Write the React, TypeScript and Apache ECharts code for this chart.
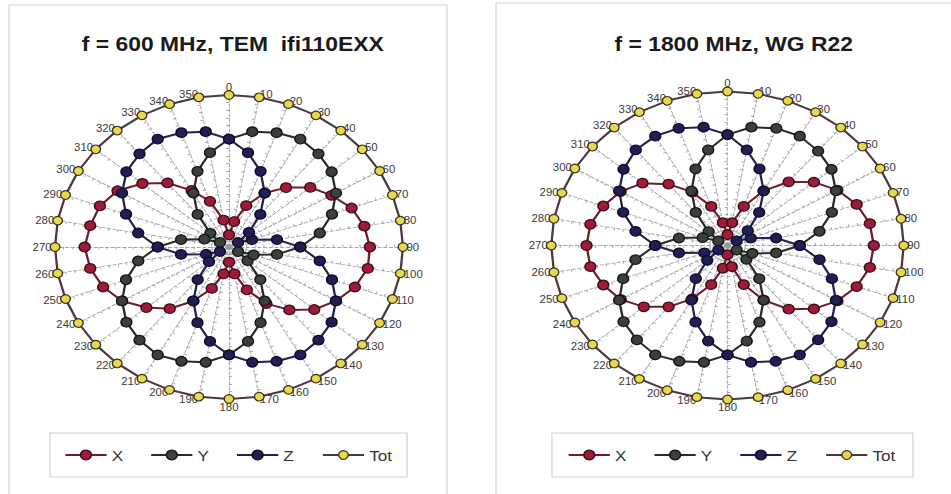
import React, { useEffect, useRef } from "react";
import * as echarts from "echarts";

// ---------- data ----------
const ANGLES = [0, 10, 20, 30, 40, 50, 60, 70, 80, 90, 100, 110, 120, 130, 140, 150, 160, 170,
  180, 190, 200, 210, 220, 230, 240, 250, 260, 270, 280, 290, 300, 310, 320, 330, 340, 350];

const SERIES_NAMES = ["X", "Y", "Z", "Tot"];
const TITLES = ["f = 600 MHz, TEM  ifi110EXX", "f = 1800 MHz, WG R22"];

// 600 MHz, TEM
const X_600 = [0.08, 0.17, 0.29, 0.41, 0.51, 0.61, 0.68, 0.75, 0.79, 0.81, 0.81, 0.77, 0.71, 0.64, 0.54, 0.43, 0.30, 0.18,
  0.10, 0.18, 0.29, 0.41, 0.53, 0.62, 0.71, 0.77, 0.81, 0.83, 0.81, 0.79, 0.74, 0.65, 0.55, 0.43, 0.32, 0.18];
const Y_600 = [0.71, 0.77, 0.80, 0.82, 0.80, 0.77, 0.71, 0.63, 0.53, 0.41, 0.28, 0.15, 0.06, 0.14, 0.28, 0.41, 0.53, 0.63,
  0.71, 0.77, 0.80, 0.82, 0.80, 0.77, 0.71, 0.63, 0.53, 0.41, 0.28, 0.15, 0.06, 0.14, 0.28, 0.41, 0.53, 0.63];
const Z_600 = [0.71, 0.63, 0.53, 0.41, 0.28, 0.15, 0.06, 0.14, 0.28, 0.41, 0.53, 0.63, 0.71, 0.77, 0.80, 0.82, 0.80, 0.77,
  0.71, 0.63, 0.53, 0.41, 0.28, 0.15, 0.06, 0.14, 0.28, 0.41, 0.53, 0.63, 0.71, 0.77, 0.80, 0.82, 0.80, 0.77];
const TOT_600 = [1, 1, 1, 1, 1, 1, 1, 1, 1, 1, 1, 1, 1, 1, 1, 1, 1, 1,
  1, 1, 1, 1, 1, 1, 1, 1, 1, 1, 1, 1, 1, 1, 1, 1, 1, 1];

// 1800 MHz, WG R22
const X_1800 = [0.07, 0.15, 0.27, 0.41, 0.54, 0.64, 0.72, 0.78, 0.82, 0.83, 0.82, 0.78, 0.72, 0.64, 0.54, 0.41, 0.27, 0.14,
  0.06, 0.15, 0.27, 0.40, 0.52, 0.62, 0.70, 0.75, 0.79, 0.80, 0.79, 0.75, 0.70, 0.63, 0.52, 0.40, 0.27, 0.15];
const Y_1800 = [0.72, 0.78, 0.81, 0.82, 0.80, 0.77, 0.71, 0.63, 0.53, 0.41, 0.28, 0.15, 0.06, 0.14, 0.28, 0.41, 0.53, 0.63,
  0.71, 0.77, 0.80, 0.82, 0.80, 0.77, 0.71, 0.63, 0.53, 0.41, 0.28, 0.15, 0.06, 0.14, 0.28, 0.41, 0.53, 0.63];
const Z_1800 = [0.72, 0.63, 0.53, 0.41, 0.28, 0.15, 0.06, 0.14, 0.28, 0.41, 0.53, 0.63, 0.71, 0.77, 0.80, 0.82, 0.80, 0.77,
  0.71, 0.63, 0.53, 0.41, 0.28, 0.15, 0.06, 0.14, 0.28, 0.41, 0.53, 0.63, 0.71, 0.77, 0.81, 0.82, 0.81, 0.78];
const TOT_1800 = [1, 1, 1, 1, 1, 1, 1, 1, 1, 1, 1, 1, 1, 1, 1, 1, 1, 1,
  1, 1, 1, 1, 1, 1, 1, 1, 1, 1, 1, 1, 1, 1, 1, 1, 1, 1];

const PANELS = [
  [X_600, Y_600, Z_600, TOT_600],
  [X_1800, Y_1800, Z_1800, TOT_1800],
];

// ---------- styles ----------
const FONT = "'Liberation Sans', Arial, sans-serif";
const LINE_COLORS = ["#6e1c30", "#2a2a2a", "#22224a", "#4a3a40"];
const FILL_COLORS = ["#9e1b3a", "#3b403c", "#1f1f55", "#e9d74c"];
const BORDER_COLORS = ["#3e0a16", "#151515", "#0c0c26", "#3a3020"];
const SYMBOL_SIZES = [9.5, 9.5, 9.5, 8.5];

const W = 831; // unstretched width; the picture is stretched horizontally
const H = 494;
const SX = 951 / W;

const LAYOUT = [
  { cx: 200.1, cy: 247, r: 152, titleX: 198.4, box: [7.9, 5, 382.7, 500], legendBox: [43.7, 433, 312, 44], legendX0: 75.1 },
  { cx: 635.7, cy: 245.5, r: 154, titleX: 636.1, box: [433.4, 3, 420, 500], legendBox: [482.3, 433, 315.5, 44], legendX0: 514.9 },
];

// clockwise order starting at the top (ECharts radar lays indicators counter-clockwise)
const ORDER_IDX = [0, ...ANGLES.map((_, i) => i).slice(1).reverse()];
const reorder = (arr: number[]) => ORDER_IDX.map((i) => arr[i]);

export default function App() {
  const ref = useRef<HTMLDivElement>(null);

  useEffect(() => {
    if (!ref.current) return;
    const chart = echarts.init(ref.current, null, { renderer: "svg" });

    const radar = LAYOUT.map((L) => ({
      center: [L.cx, L.cy],
      radius: L.r,
      startAngle: 90,
      shape: "circle",
      splitNumber: 20,
      indicator: ORDER_IDX.map((i) => ({ name: String(ANGLES[i]), min: 0, max: 1 })),
      nameGap: 3,
      axisName: { color: "#3a3a3a", fontSize: 10, fontFamily: FONT },
      axisLine: { show: true, lineStyle: { color: "#a4a4ac", width: 0.9, type: [3, 2] } },
      axisTick: { show: true, length: 2.5, lineStyle: { color: "#9a9aa2", width: 0.8 } },
      axisLabel: { show: false },
      splitLine: { show: false },
      splitArea: { show: false },
    }));

    const series = PANELS.map((panel, p) => ({
      type: "radar",
      radarIndex: p,
      symbol: "circle",
      data: panel.map((vals, k) => ({
        name: SERIES_NAMES[k],
        value: reorder(vals),
        symbolSize: SYMBOL_SIZES[k],
        lineStyle: { color: LINE_COLORS[k], width: 2 },
        itemStyle: { color: FILL_COLORS[k], borderColor: BORDER_COLORS[k], borderWidth: 1.2 },
      })),
    }));

    const graphic: any[] = [];
    LAYOUT.forEach((L) => {
      graphic.push({
        type: "rect",
        silent: true,
        z: -10,
        shape: { x: L.box[0], y: L.box[1], width: L.box[2], height: L.box[3] },
        style: { fill: "#ffffff", stroke: "#d2d2d2", lineWidth: 1 },
      });
      graphic.push({
        type: "rect",
        silent: true,
        shape: { x: L.legendBox[0], y: L.legendBox[1], width: L.legendBox[2], height: L.legendBox[3] },
        style: { fill: "none", stroke: "#cfcfcf", lineWidth: 1 },
      });
      SERIES_NAMES.forEach((name, k) => {
        const cx = L.legendX0 + k * 75;
        const cy = 455;
        graphic.push({
          type: "line",
          silent: true,
          shape: { x1: cx - 18, y1: cy, x2: cx + 18, y2: cy },
          style: { stroke: LINE_COLORS[k], lineWidth: 1.8 },
        });
        graphic.push({
          type: "circle",
          silent: true,
          shape: { cx, cy, r: SYMBOL_SIZES[k] / 2 },
          style: { fill: FILL_COLORS[k], stroke: BORDER_COLORS[k], lineWidth: 1.2 },
        });
        graphic.push({
          type: "text",
          silent: true,
          x: cx + 22.5,
          y: cy,
          style: { text: name, fontSize: 15, fontFamily: FONT, fill: "#333333", verticalAlign: "middle", align: "left" },
        });
      });
    });

    chart.setOption({
      animation: false,
      backgroundColor: "#ffffff",
      title: LAYOUT.map((L, p) => ({
        text: TITLES[p],
        left: L.titleX,
        top: 29,
        textAlign: "center",
        textStyle: { fontSize: 20, fontWeight: "bold", color: "#1a1a1a", fontFamily: FONT },
      })),
      radar,
      series,
      graphic,
    });

    return () => chart.dispose();
  }, []);

  return (
    <div style={{ position: "fixed", left: 0, top: 0, width: 951, height: H, overflow: "hidden", background: "#fff" }}>
      <div
        ref={ref}
        style={{ width: W, height: H, transform: `scaleX(${SX})`, transformOrigin: "0 0" }}
      />
    </div>
  );
}
